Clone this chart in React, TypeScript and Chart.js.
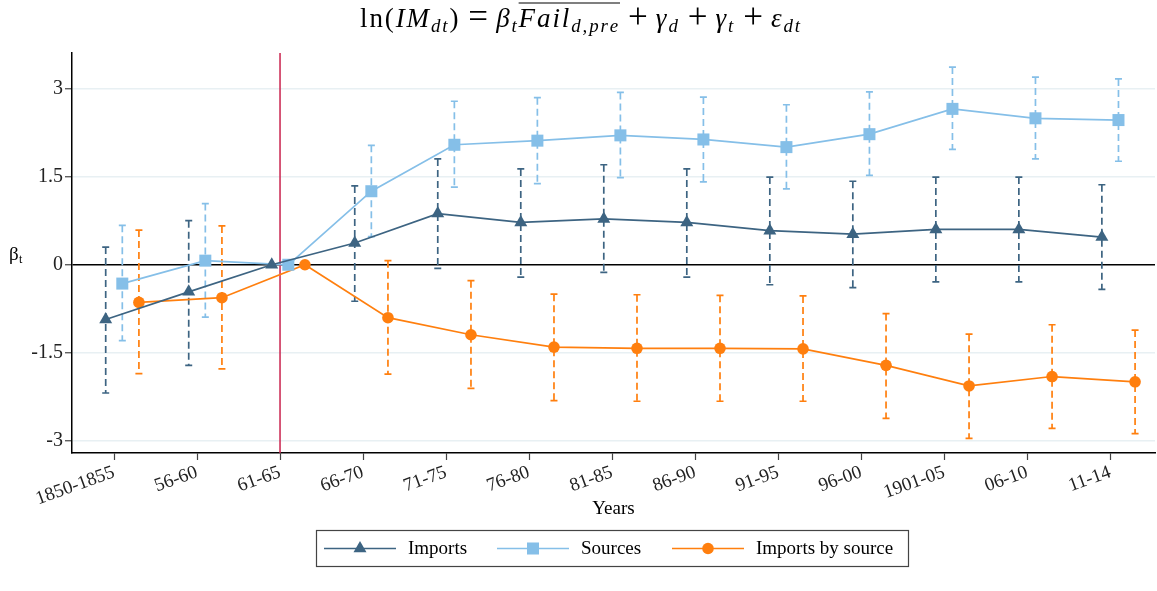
import React, { useEffect, useRef } from 'react';
import { Chart, registerables } from 'chart.js';

Chart.register(...registerables);

const categories = ['1850-1855', '56-60', '61-65', '66-70', '71-75', '76-80', '81-85', '86-90', '91-95', '96-00', '1901-05', '06-10', '11-14'];
const yTickValues = [-3, -1.5, 0, 1.5, 3];
const yTickLabels = ['-3', '-1.5', '0', '1.5', '3'];

const importsCoef = [-0.93, -0.46, 0, 0.37, 0.87, 0.72, 0.78, 0.72, 0.58, 0.52, 0.60, 0.60, 0.47];
const importsLo = [-2.18, -1.71, null, -0.62, -0.06, -0.21, -0.13, -0.21, -0.34, -0.39, -0.29, -0.29, -0.42];
const importsHi = [0.30, 0.75, null, 1.34, 1.80, 1.63, 1.70, 1.63, 1.49, 1.42, 1.49, 1.49, 1.36];

const sourcesCoef = [-0.32, 0.07, 0, 1.25, 2.04, 2.11, 2.20, 2.13, 2.00, 2.22, 2.65, 2.49, 2.46];
const sourcesLo = [-1.29, -0.89, null, 0.48, 1.32, 1.38, 1.48, 1.41, 1.29, 1.52, 1.96, 1.80, 1.76];
const sourcesHi = [0.67, 1.04, null, 2.03, 2.78, 2.84, 2.93, 2.85, 2.72, 2.94, 3.36, 3.19, 3.16];

const ibsCoef = [-0.64, -0.56, 0, -0.90, -1.19, -1.40, -1.42, -1.42, -1.43, -1.71, -2.06, -1.90, -1.99];
const ibsLo = [-1.85, -1.77, null, -1.86, -2.10, -2.31, -2.32, -2.32, -2.32, -2.61, -2.95, -2.78, -2.87];
const ibsHi = [0.59, 0.66, null, 0.07, -0.27, -0.50, -0.51, -0.52, -0.53, -0.83, -1.18, -1.02, -1.11];

const seriesNames = ['Imports', 'Sources', 'Imports by source'];
const referencePeriod = 2;

const COL_IMP = '#3d6482';
const COL_SRC = '#85bfe8';
const COL_IBS = '#ff7f0e';
const COL_RED = '#c9224d';
const SERIF = "'Liberation Serif', 'Times New Roman', serif";

function drawMarker(ctx: CanvasRenderingContext2D, style: string, x: number, y: number, r: number, color: string) {
  ctx.save();
  ctx.fillStyle = color;
  ctx.beginPath();
  if (style === 'triangle') {
    ctx.moveTo(x, y - r);
    ctx.lineTo(x + r * Math.sin(Math.PI / 3), y + r * 0.5);
    ctx.lineTo(x - r * Math.sin(Math.PI / 3), y + r * 0.5);
    ctx.closePath();
  } else if (style === 'rect') {
    const s = Math.SQRT1_2 * r;
    ctx.rect(x - s, y - s, 2 * s, 2 * s);
  } else {
    ctx.arc(x, y, r, 0, Math.PI * 2);
  }
  ctx.fill();
  ctx.restore();
}

function drawTitle(ctx: CanvasRenderingContext2D, x0: number, x1: number, baseline: number) {
  type Piece = { t: string; it?: boolean; sub?: boolean; op?: boolean; ovStart?: boolean; ovEnd?: boolean };
  const pieces: Piece[] = [
    { t: 'ln(' },
    { t: 'IM', it: true },
    { t: 'dt', it: true, sub: true },
    { t: ')' },
    { t: '=', op: true },
    { t: 'β', it: true },
    { t: 't', it: true, sub: true },
    { t: 'Fail', it: true, ovStart: true },
    { t: 'd,pre', it: true, sub: true, ovEnd: true },
    { t: '+', op: true },
    { t: 'γ', it: true },
    { t: 'd', it: true, sub: true },
    { t: '+', op: true },
    { t: 'γ', it: true },
    { t: 't', it: true, sub: true },
    { t: '+', op: true },
    { t: 'ε', it: true },
    { t: 'dt', it: true, sub: true },
  ];
  const size = 27;
  const fontFor = (p: Piece) =>
    `${p.it ? 'italic ' : ''}${p.sub ? size * 0.7 : p.op ? size * 1.3 : size}px ${SERIF}`;
  const gap = 8;
  let sum = 0;
  let nChars = 0;
  ctx.save();
  for (const p of pieces) {
    ctx.font = fontFor(p);
    for (const ch of p.t) {
      sum += ctx.measureText(ch).width;
      if (!p.op) nChars += 1;
    }
    if (p.op) sum += 2 * gap;
  }
  const ls = Math.max(0, (x1 - x0 - sum) / nChars);
  let x = x0;
  let ovX0 = 0;
  ctx.fillStyle = '#000';
  ctx.textBaseline = 'alphabetic';
  ctx.textAlign = 'left';
  for (const p of pieces) {
    ctx.font = fontFor(p);
    if (p.op) x += gap;
    if (p.ovStart) ovX0 = x;
    for (const ch of p.t) {
      ctx.fillText(ch, x, baseline + (p.sub ? size * 0.17 : p.op ? size * 0.05 : 0));
      x += ctx.measureText(ch).width + (p.op ? 0 : ls);
    }
    if (p.op) x += gap;
    if (p.ovEnd) {
      ctx.strokeStyle = '#000';
      ctx.lineWidth = 1.2;
      ctx.beginPath();
      ctx.moveTo(ovX0, 3);
      ctx.lineTo(x, 3);
      ctx.stroke();
    }
  }
  ctx.restore();
}

const customPlugin = {
  id: 'customDraw',
  beforeDatasetsDraw(chart: any) {
    const { ctx, chartArea, scales } = chart;
    const xs = scales.x;
    const ys = scales.y;
    const rx = xs.getPixelForValue(referencePeriod);
    ctx.save();
    ctx.strokeStyle = COL_RED;
    ctx.lineWidth = 1.5;
    ctx.beginPath();
    ctx.moveTo(rx, chartArea.top);
    ctx.lineTo(rx, chartArea.bottom);
    ctx.stroke();
    ctx.restore();
    chart.data.datasets.forEach((ds: any) => {
      const lo = ds.errLo as (number | null)[];
      const hi = ds.errHi as (number | null)[];
      ds.data.forEach((pt: any, i: number) => {
        if (lo[i] == null || hi[i] == null) return;
        const px = xs.getPixelForValue(pt.x);
        const yl = ys.getPixelForValue(lo[i]);
        const yh = ys.getPixelForValue(hi[i]);
        ctx.save();
        ctx.strokeStyle = ds.borderColor;
        ctx.lineWidth = 1.7;
        ctx.setLineDash([7, 4]);
        ctx.beginPath();
        ctx.moveTo(px, yh);
        ctx.lineTo(px, yl);
        ctx.stroke();
        ctx.setLineDash([]);
        ctx.beginPath();
        ctx.moveTo(px - 3.5, yh);
        ctx.lineTo(px + 3.5, yh);
        ctx.moveTo(px - 3.5, yl);
        ctx.lineTo(px + 3.5, yl);
        ctx.stroke();
        ctx.restore();
      });
    });
  },
  afterDraw(chart: any) {
    const { ctx, chartArea } = chart;
    drawTitle(ctx, 360, 802, 27);
    ctx.save();
    ctx.fillStyle = '#000';
    ctx.font = `19px ${SERIF}`;
    ctx.textBaseline = 'alphabetic';
    ctx.textAlign = 'left';
    ctx.fillText('β', 9, 260);
    ctx.font = `12px ${SERIF}`;
    ctx.fillText('t', 19, 263);
    ctx.font = `19px ${SERIF}`;
    ctx.textAlign = 'center';
    ctx.textBaseline = 'alphabetic';
    ctx.fillText('Years', (chartArea.left + chartArea.right) / 2, 514);
    ctx.strokeStyle = '#444';
    ctx.lineWidth = 1.2;
    ctx.strokeRect(316.5, 530.5, 592, 36);
    const ly = 548.5;
    const items = [
      { x0: 324, x1: 396, color: COL_IMP, style: 'triangle', r: 7.5, tx: 408 },
      { x0: 497, x1: 569, color: COL_SRC, style: 'rect', r: 8.5, tx: 581 },
      { x0: 672, x1: 744, color: COL_IBS, style: 'circle', r: 5.8, tx: 756 },
    ];
    items.forEach((it, i) => {
      ctx.strokeStyle = it.color;
      ctx.lineWidth = 1.7;
      ctx.beginPath();
      ctx.moveTo(it.x0, ly);
      ctx.lineTo(it.x1, ly);
      ctx.stroke();
      drawMarker(ctx, it.style, (it.x0 + it.x1) / 2, ly, it.r, it.color);
      ctx.fillStyle = '#000';
      ctx.font = `19px ${SERIF}`;
      ctx.textAlign = 'left';
      ctx.textBaseline = 'middle';
      ctx.fillText(seriesNames[i], it.tx, ly + 1);
    });
    ctx.restore();
  },
};

export default function App() {
  const ref = useRef<HTMLCanvasElement | null>(null);
  useEffect(() => {
    if (!ref.current) return;
    const mk = (vals: number[], off: number) => vals.map((v, i) => ({ x: i + off, y: v }));
    const chart = new Chart(ref.current, {
      type: 'line',
      data: {
        datasets: [
          {
            label: seriesNames[0],
            data: mk(importsCoef, -0.1),
            errLo: importsLo,
            errHi: importsHi,
            borderColor: COL_IMP,
            backgroundColor: COL_IMP,
            borderWidth: 1.7,
            pointStyle: 'triangle',
            pointRadius: 7.5,
            pointBorderWidth: 0,
            tension: 0,
          } as any,
          {
            label: seriesNames[1],
            data: mk(sourcesCoef, 0.1),
            errLo: sourcesLo,
            errHi: sourcesHi,
            borderColor: COL_SRC,
            backgroundColor: COL_SRC,
            borderWidth: 1.7,
            pointStyle: 'rect',
            pointRadius: 8.5,
            pointBorderWidth: 0,
            tension: 0,
          } as any,
          {
            label: seriesNames[2],
            data: mk(ibsCoef, 0.3),
            errLo: ibsLo,
            errHi: ibsHi,
            borderColor: COL_IBS,
            backgroundColor: COL_IBS,
            borderWidth: 1.7,
            pointStyle: 'circle',
            pointRadius: 5.8,
            pointBorderWidth: 0,
            tension: 0,
          } as any,
        ],
      },
      options: {
        responsive: false,
        animation: false,
        devicePixelRatio: 1,
        layout: { autoPadding: false, padding: { top: 53, right: 2, left: 0, bottom: 0 } },
        plugins: {
          legend: { display: false },
          title: { display: false },
          tooltip: { enabled: false },
        },
        scales: {
          x: {
            type: 'linear',
            min: -0.506,
            max: 12.54,
            afterBuildTicks: (scale: any) => {
              scale.ticks = categories.map((_, i) => ({ value: i }));
            },
            afterFit: (scale: any) => {
              scale.height = 138;
              scale.paddingLeft = 0;
              scale.paddingRight = 0;
            },
            ticks: {
              autoSkip: false,
              minRotation: 20,
              maxRotation: 20,
              padding: 1,
              color: '#222',
              font: { family: SERIF, size: 19 },
              callback: (v: any) => categories[Math.round(Number(v))] ?? '',
            },
            grid: {
              drawOnChartArea: false,
              drawTicks: true,
              tickLength: 7,
              tickColor: '#444',
              tickWidth: 1.2,
            },
            border: { color: '#000', width: 1.5 },
          },
          y: {
            type: 'linear',
            min: -3.2,
            max: 3.6,
            afterBuildTicks: (scale: any) => {
              scale.ticks = yTickValues.map((v) => ({ value: v }));
            },
            afterFit: (scale: any) => {
              scale.width = 72;
              scale.paddingTop = 0;
              scale.paddingBottom = 0;
            },
            ticks: {
              padding: 2,
              color: '#222',
              font: { family: SERIF, size: 20 },
              callback: (v: any) => {
                const idx = yTickValues.indexOf(Number(v));
                return idx >= 0 ? yTickLabels[idx] : '';
              },
            },
            grid: {
              color: (c: any) => (c.tick && c.tick.value === 0 ? '#000' : '#e8f0f3'),
              lineWidth: 1.5,
              tickLength: 7,
              tickColor: '#444',
              tickWidth: 1.2,
            },
            border: { color: '#000', width: 1.5 },
          },
        },
      } as any,
      plugins: [customPlugin],
    });
    return () => chart.destroy();
  }, []);
  return (
    <div style={{ position: 'absolute', left: 0, top: 0, width: 1157, height: 591, background: '#fff' }}>
      <canvas ref={ref} width={1157} height={591} style={{ display: 'block' }} />
    </div>
  );
}
